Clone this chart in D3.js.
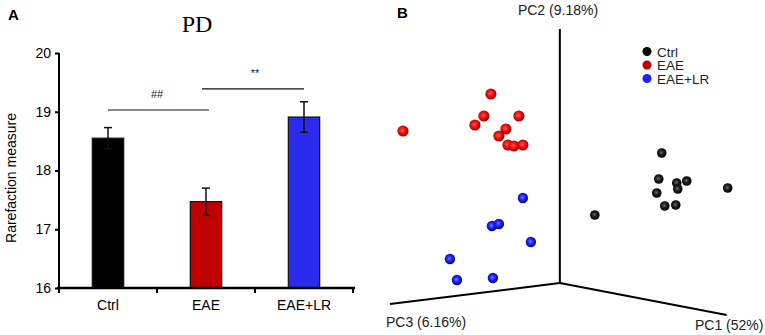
<!DOCTYPE html>
<html>
<head>
<meta charset="utf-8">
<script src="https://cdn.jsdelivr.net/npm/d3@7"></script>
<style>
  body { margin: 0; background: #fff; }
  svg { display: block; font-family: "Liberation Sans", Arial, sans-serif; }
</style>
</head>
<body>
<div id="chart"></div>
<script>
// ---- data: panel A (PD rarefaction) ----
const groups = ["Ctrl", "EAE", "EAE+LR"];
const pdMean = [18.55, 17.47, 18.91];
const pdErr = [0.18, 0.23, 0.26];
const yTicks = [16, 17, 18, 19, 20];

// significance brackets
const sigLabels = ["##", "**"];
const sigFrom = ["Ctrl", "EAE"];
const sigTo = ["EAE", "EAE+LR"];
const sigLevel = [19.03, 19.39];

// ---- data: panel B (PCoA, projected plane) ----
const ctrlU = [1.02, 0.99, 1.17, 1.27, 1.18, 0.97, 1.05, 1.16, 1.68, 0.35];
const ctrlV = [1.30, 1.04, 1.00, 1.02, 0.94, 0.90, 0.77, 0.78, 0.95, 0.68];
const eaeU = [-1.57, -0.69, -0.76, -0.41, -0.85, -0.54, -0.61, -0.52, -0.46, -0.37];
const eaeV = [1.52, 1.89, 1.67, 1.67, 1.58, 1.54, 1.47, 1.38, 1.37, 1.38];
const lrU = [-0.37, -0.68, -0.61, -0.29, -1.10, -1.03, -0.67];
const lrV = [0.85, 0.57, 0.59, 0.41, 0.24, 0.03, 0.05];
const axisNames = ["PC1 (52%)", "PC2 (9.18%)", "PC3 (6.16%)"];
const axisEndU = [1.67, 0, -1.70];
const axisEndV = [-0.32, 2.54, -0.21];

const width = 765;
const height = 335;

const svg = d3.select("#chart")
  .append("svg")
  .attr("width", width)
  .attr("height", height);

const barColor = d3.scaleOrdinal().domain(groups).range(["#000000", "#c00000", "#2b2bee"]);

// ================= Panel A =================
const x = d3.scaleBand()
  .domain(groups)
  .range([59, 353])
  .paddingInner(0.68)
  .paddingOuter(0.34);
const mid = d => x(d) + x.bandwidth() / 2;

const y = d3.scaleLinear()
  .domain([16, 20])
  .range([288, 53]);

svg.append("text")
  .attr("x", 8).attr("y", 20)
  .style("font-size", "15px").style("font-weight", "bold")
  .text("A");

svg.append("text")
  .attr("x", 197).attr("y", 32)
  .attr("text-anchor", "middle")
  .style("font-family", "'Liberation Serif', 'Times New Roman', serif")
  .style("font-size", "24px")
  .text("PD");

// y axis
const yAxis = svg.append("g")
  .attr("transform", "translate(59,0)")
  .call(d3.axisLeft(y).tickValues(yTicks).tickFormat(d3.format("d")).tickSize(4).tickPadding(4));
yAxis.select(".domain").attr("stroke-width", 2).attr("d", `M0,${y(20)}V${y(16)}`);
yAxis.selectAll(".tick line").attr("stroke-width", 2);
yAxis.selectAll(".tick text").style("font-size", "14px").style("font-family", "'Liberation Sans', Arial, sans-serif");

svg.append("text")
  .attr("transform", "translate(16,178) rotate(-90)")
  .attr("text-anchor", "middle")
  .style("font-size", "14px")
  .text("Rarefaction measure");

// bars
svg.append("g")
  .selectAll("rect")
  .data(groups)
  .join("rect")
  .attr("x", d => x(d))
  .attr("width", x.bandwidth())
  .attr("y", (d, i) => y(pdMean[i]))
  .attr("height", (d, i) => y(16) - y(pdMean[i]))
  .attr("fill", d => barColor(d))
  .attr("stroke", "#111")
  .attr("stroke-width", 1.2);

// error bars
const err = svg.append("g")
  .selectAll("g")
  .data(groups)
  .join("g")
  .attr("stroke", "#111")
  .attr("stroke-width", 1.5);
err.append("line")
  .attr("x1", mid).attr("x2", mid)
  .attr("y1", (d, i) => y(pdMean[i] - pdErr[i]))
  .attr("y2", (d, i) => y(pdMean[i] + pdErr[i]));
err.append("line")
  .attr("x1", d => mid(d) - 4).attr("x2", d => mid(d) + 4)
  .attr("y1", (d, i) => y(pdMean[i] + pdErr[i]))
  .attr("y2", (d, i) => y(pdMean[i] + pdErr[i]));
err.append("line")
  .attr("x1", d => mid(d) - 4).attr("x2", d => mid(d) + 4)
  .attr("y1", (d, i) => y(pdMean[i] - pdErr[i]))
  .attr("y2", (d, i) => y(pdMean[i] - pdErr[i]));

// x axis
const xAxis = svg.append("g")
  .attr("transform", `translate(0,${y(16)})`)
  .call(d3.axisBottom(x).tickSize(0).tickPadding(12));
xAxis.select(".domain").attr("stroke-width", 2.5).attr("d", "M57,0H355");
xAxis.selectAll(".tick text").style("font-size", "14px").style("font-family", "'Liberation Sans', Arial, sans-serif");
const gap = (x.step() - x.bandwidth()) / 2;
xAxis.selectAll(".boundary")
  .data(groups.concat(["end"]))
  .join("line")
  .attr("x1", (d, i) => i < groups.length ? x(d) - gap : x(groups[groups.length - 1]) + x.bandwidth() + gap)
  .attr("x2", (d, i) => i < groups.length ? x(d) - gap : x(groups[groups.length - 1]) + x.bandwidth() + gap)
  .attr("y1", 0).attr("y2", 5)
  .attr("stroke", "#000").attr("stroke-width", 2);

// significance
const sig = svg.append("g")
  .selectAll("g")
  .data(sigLabels)
  .join("g");
sig.append("line")
  .attr("x1", (d, i) => mid(sigFrom[i]) - (i === 0 ? 0 : 4))
  .attr("x2", (d, i) => mid(sigTo[i]) + (i === 0 ? 3 : 0))
  .attr("y1", (d, i) => y(sigLevel[i]))
  .attr("y2", (d, i) => y(sigLevel[i]))
  .attr("stroke", "#111").attr("stroke-width", 1.1);
sig.append("text")
  .attr("x", (d, i) => (mid(sigFrom[i]) + mid(sigTo[i])) / 2)
  .attr("y", (d, i) => y(sigLevel[i]) - 12)
  .attr("text-anchor", "middle")
  .style("font-size", "11px")
  .attr("fill", "#222")
  .text(d => d);

// ================= Panel B =================
const u = d3.scaleLinear().domain([-1.70, 1.67]).range([390, 726.7]);
const v = d3.scaleLinear().domain([-0.32, 2.54]).range([315, 29]);

svg.append("text")
  .attr("x", 397).attr("y", 18)
  .style("font-size", "15px").style("font-weight", "bold")
  .text("B");

const defs = svg.append("defs");
const sphereColors = [
  { id: "gCtrl", hi: "#6a6a6a", mid: "#1a1a1a", lo: "#000000" },
  { id: "gEAE", hi: "#ff5a4a", mid: "#ee1111", lo: "#8a0000" },
  { id: "gLR", hi: "#6f7bff", mid: "#1d1dff", lo: "#00007a" }
];
sphereColors.forEach(c => {
  const g = defs.append("radialGradient").attr("id", c.id)
    .attr("cx", "45%").attr("cy", "45%").attr("r", "60%");
  g.append("stop").attr("offset", "0%").attr("stop-color", c.hi);
  g.append("stop").attr("offset", "45%").attr("stop-color", c.mid);
  g.append("stop").attr("offset", "100%").attr("stop-color", c.lo);
});

// axes of the 3D frame
svg.append("g")
  .selectAll("line")
  .data(axisNames)
  .join("line")
  .attr("x1", u(0)).attr("y1", v(0))
  .attr("x2", (d, i) => u(axisEndU[i]))
  .attr("y2", (d, i) => v(axisEndV[i]))
  .attr("stroke", "#000").attr("stroke-width", 2);

svg.append("text").attr("x", 558).attr("y", 15).attr("text-anchor", "middle")
  .style("font-size", "14px").attr("fill", "#222").text(axisNames[1]);
svg.append("text").attr("x", 386).attr("y", 327)
  .style("font-size", "14px").attr("fill", "#222").text(axisNames[2]);
svg.append("text").attr("x", 695).attr("y", 330)
  .style("font-size", "14px").attr("fill", "#222").text(axisNames[0]);

// points
const drawSpheres = (us, vs, grad, r) => {
  svg.append("g")
    .selectAll("circle")
    .data(us)
    .join("circle")
    .attr("cx", d => u(d))
    .attr("cy", (d, i) => v(vs[i]))
    .attr("r", r)
    .attr("fill", `url(#${grad})`);
};
drawSpheres(ctrlU, ctrlV, "gCtrl", 4.8);
drawSpheres(lrU, lrV, "gLR", 5.2);
drawSpheres(eaeU, eaeV, "gEAE", 5.6);

// legend
const legendColor = d3.scaleOrdinal().domain(groups).range(["#000000", "#c00000", "#1f1fff"]);
const legend = svg.append("g")
  .selectAll("g")
  .data(groups)
  .join("g")
  .attr("transform", (d, i) => `translate(647,${51.5 + i * 13.5})`);
legend.append("circle").attr("r", 4.5).attr("fill", d => legendColor(d));
legend.append("text").attr("x", 10).attr("y", 5)
  .style("font-size", "13.5px").attr("fill", "#222").text(d => d);
</script>
</body>
</html>
